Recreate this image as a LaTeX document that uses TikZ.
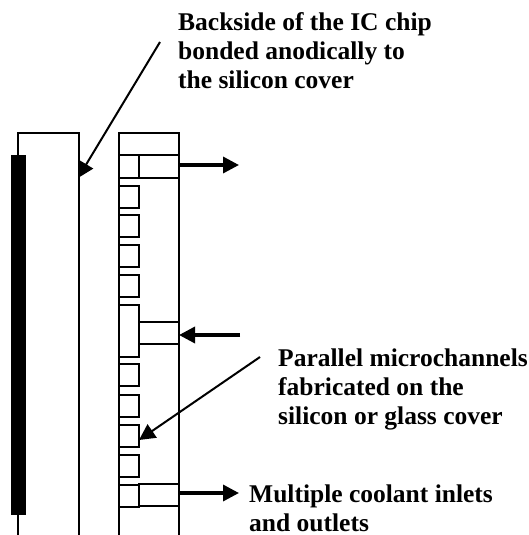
\documentclass[tikz,border=0pt]{standalone}
\usepackage{fontspec}
\setmainfont{Liberation Serif}
\usetikzlibrary{arrows.meta}
\tikzset{
  wall/.style={draw=black, line width=1.6pt},
  channel/.style={wall, line width=1.9pt, fill=white, minimum width=20pt, minimum height=22pt, inner sep=0pt, outer sep=0pt, anchor=north west},
  port/.style={wall, line width=1.9pt, fill=white, minimum width=40pt, minimum height=22pt, inner sep=0pt, outer sep=0pt, anchor=north west},
  flow/.style={-{Triangle[length=16pt,width=16pt]}, line width=3.4pt},
  leader/.style={-{Triangle[length=16pt,width=16pt]}, line width=2pt},
  callout/.style={font=\fontsize{25.5}{29}\selectfont\bfseries, align=left, anchor=north west, inner sep=0pt}
}
\begin{document}
\begin{tikzpicture}[x=1pt,y=-1pt]
  \useasboundingbox (0,0) rectangle (528,535);
  % chip
  \draw[wall] (18,535) -- (18,133) -- (79,133) -- (79,535);
  \fill[black] (11,155) rectangle (26,515);
  % cover
  \draw[wall] (119,535) -- (119,133) -- (179,133) -- (179,535);
  \draw[wall] (119,155) -- (179,155);
  % channels
  \node[channel, minimum height=23pt] (outA) at (119,155) {};
  \node[port, minimum height=23pt] (portA) at (139,155) {};
  \foreach \y/\name in {186/chA,215/chB,245/chC,275/chD,364/chE,395/chF,425/chG,455/chH}
    \node[channel] (\name) at (119,\y) {};
  \node[channel, minimum height=52pt] (inB) at (119,305) {};
  \node[port] (portB) at (139,322) {};
  \node[channel] (outC) at (119,485) {};
  \node[port] (portC) at (139,484) {};
  % flow arrows
  \coordinate (endA) at (239,165);
  \coordinate (endB) at (240,335);
  \coordinate (endC) at (239,493);
  \draw[flow] (portA.east |- endA) -- (endA);
  \draw[flow] (endB) -- (portB.east |- endB);
  \draw[flow] (portC.east |- endC) -- (endC);
  % labels
  \node[callout] (backside) at (178,12) {Backside of the IC chip\\bonded anodically to\\the silicon cover};
  \node[callout] (parallel) at (278,349) {Parallel microchannels\\fabricated on the\\silicon or glass cover};
  \node[callout] (inlets) at (249,485) {Multiple coolant inlets\\and outlets};
  % leaders
  \coordinate (startA) at (160,42);
  \coordinate (startB) at (260,357);
  \coordinate (tipA) at (78,178);
  \draw[leader] (startA) -- (tipA);
  \draw[leader] (startB) -- ([yshift=-4pt]chG.east);
\end{tikzpicture}
\end{document}
